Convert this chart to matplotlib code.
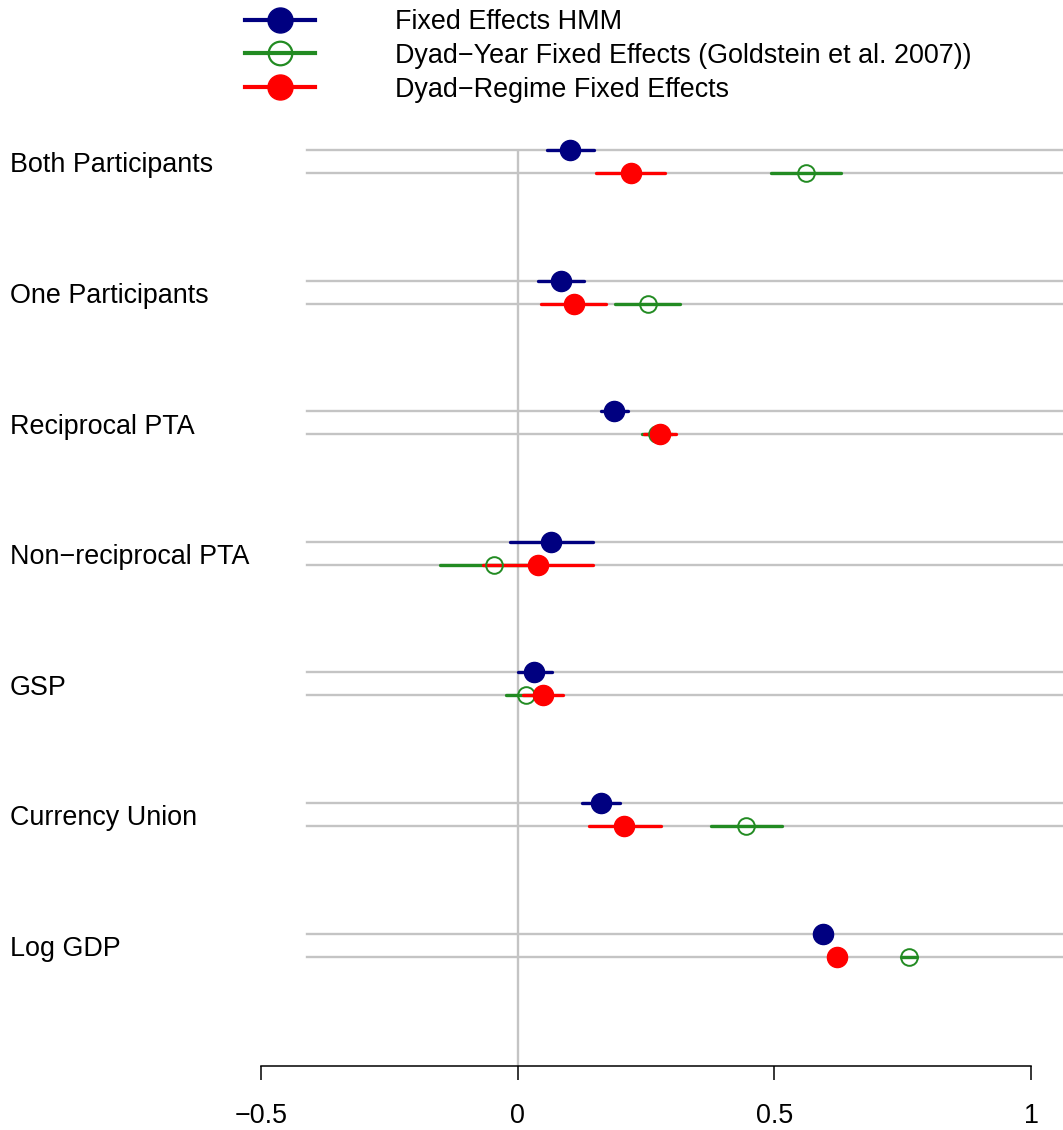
import matplotlib
matplotlib.use("Agg")
from matplotlib import pyplot as plt
from matplotlib.lines import Line2D
from matplotlib import transforms
import numpy as np

plt.rcParams['font.family'] = ['Liberation Sans', 'DejaVu Sans']

variables = ["Both Participants", "One Participants", "Reciprocal PTA",
             "Non\u2212reciprocal PTA", "GSP", "Currency Union", "Log GDP"]

series = ["Fixed Effects HMM",
          "Dyad\u2212Year Fixed Effects (Goldstein et al. 2007))",
          "Dyad\u2212Regime Fixed Effects"]

# estimations ponctuelles et intervalles (bas, haut) par variable
hmm_est = [0.101, 0.084, 0.187, 0.064, 0.032, 0.162, 0.594]
hmm_lo = [0.058, 0.039, 0.163, -0.015, 0.000, 0.126, 0.588]
hmm_hi = [0.148, 0.129, 0.214, 0.147, 0.066, 0.199, 0.600]

dy_est = [0.561, 0.253, 0.272, -0.047, 0.016, 0.444, 0.762]
dy_lo = [0.494, 0.189, 0.243, -0.152, -0.023, 0.376, 0.746]
dy_hi = [0.629, 0.317, 0.301, 0.058, 0.055, 0.515, 0.778]

dr_est = [0.220, 0.109, 0.277, 0.039, 0.049, 0.208, 0.623]
dr_lo = [0.152, 0.046, 0.246, -0.068, 0.010, 0.139, 0.615]
dr_hi = [0.287, 0.173, 0.308, 0.146, 0.088, 0.279, 0.631]

couleurs = ["#000080", "#228B22", "#FF0000"]
gris = "#c4c4c4"
fs = 19.4

W, H = 1063, 1130
fig = plt.figure(figsize=(W / 100, H / 100), dpi=100)
ax = fig.add_axes([261 / W, 64 / H, 770 / W, 966 / H])

n = len(variables)
y_haut = np.arange(n, dtype=float)
y_bas = y_haut + 0.176

# lignes grises de fond
for y in np.concatenate([y_haut, y_bas]):
    ax.axhline(y, xmin=46 / 770, xmax=802 / 770, color=gris, lw=1.7,
               clip_on=False, zorder=1)
ax.vlines(0, y_haut[0], 7.014, color=gris, lw=1.7, zorder=1)

# segments d'abord, puis les points
groupes = [
    (hmm_est, hmm_lo, hmm_hi, y_haut),
    (dy_est, dy_lo, dy_hi, y_bas),
    (dr_est, dr_lo, dr_hi, y_bas),
]
for (est, lo, hi, yy), c in zip(groupes, couleurs):
    ax.hlines(yy, lo, hi, color=c, lw=2.4, zorder=2, capstyle='round')
for i, ((est, lo, hi, yy), c) in enumerate(zip(groupes, couleurs)):
    if i == 1:
        ax.plot(est, yy, 'o', ms=12, mfc='none', mec=c, mew=1.4, zorder=3)
    else:
        ax.plot(est, yy, 'o', ms=14.5, color=c, mec=c, zorder=3)

ax.set_xlim(-0.5, 1)
ax.set_ylim(7.014, -0.383)
ax.set_yticks([])
for s in ['top', 'right', 'left']:
    ax.spines[s].set_visible(False)
ax.spines['bottom'].set_linewidth(1.1)
ax.set_xticks([-0.5, 0, 0.5, 1])
ax.set_xticklabels(["\u22120.5", "0", "0.5", "1"])
ax.tick_params(axis='x', length=10, width=1.1, pad=16.5, labelsize=fs)

# noms des variables à gauche
trans = transforms.blended_transform_factory(fig.transFigure, ax.transData)
for v, y in zip(variables, y_haut):
    ax.text(10 / W, y + 0.118, v, transform=trans, ha='left', va='center',
            fontsize=fs)

poignees = [
    Line2D([], [], color=couleurs[0], lw=3, marker='o', ms=18),
    Line2D([], [], color=couleurs[1], lw=3, marker='o', ms=17, mfc='none', mew=1.6),
    Line2D([], [], color=couleurs[2], lw=3, marker='o', ms=18),
]
fig.legend(poignees, series, loc='upper left', bbox_to_anchor=(245 / W, 1 - 9 / H),
           frameon=False, fontsize=fs, handlelength=2.6, handletextpad=2.96,
           labelspacing=0.29, borderpad=0, borderaxespad=0)

fig.savefig("out.png", dpi=100)
